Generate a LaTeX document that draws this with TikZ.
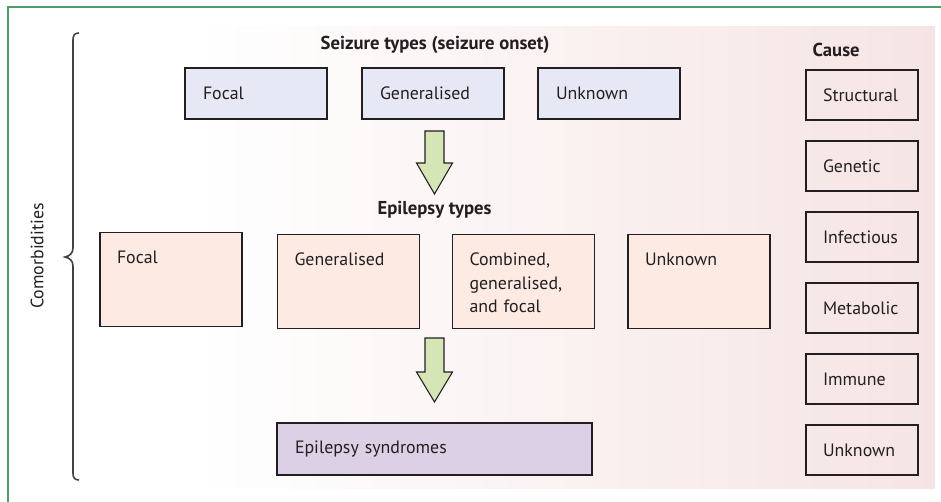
\documentclass[tikz,border=0pt]{standalone}
\usepackage{fontspec}
\setmainfont{PT Sans}
\definecolor{cadre}{HTML}{4E9C6E}
\definecolor{lavande}{HTML}{E6E8F5}
\definecolor{peche}{HTML}{FDEAE3}
\definecolor{mauve}{HTML}{DCD0E6}
\definecolor{vert}{HTML}{D5E5B6}
\definecolor{rose}{HTML}{F6E4E4}
\definecolor{encre}{HTML}{231F20}
\begin{document}
\begin{tikzpicture}[x=0.75pt,y=-0.75pt,
  every node/.style={font=\fontsize{13.4pt}{17.6pt}\selectfont,text=encre},
  onsetbox/.style={draw=encre,line width=1pt,fill=lavande,minimum width=106.5pt,minimum height=38.25pt,text width=79.5pt,inner xsep=13.5pt,align=left},
  typebox/.style={draw=encre,line width=1pt,fill=peche,anchor=north,text width=81pt,inner xsep=12.75pt,inner ysep=12pt,text height=11.25pt,text depth=35.25pt,align=left},
  causebox/.style={draw=encre,line width=1pt,minimum width=84pt,minimum height=37.5pt,text width=58.5pt,inner xsep=12.75pt,align=left},
  bigarrow/.style={draw=encre,line width=0.8pt,fill=vert,line join=miter},
  titre/.style={font=\fontsize{14pt}{16pt}\selectfont\bfseries}]

\useasboundingbox (0,0) rectangle (941,502);
\shade[left color=white,right color=rose] (193,27) rectangle (935,488);
\draw[cadre,line width=1pt] (8,502)--(8,7)--(941,7);

\draw[encre!85,line width=1.2pt] (79,33) .. controls (74,33) and (73,36) .. (73,40) -- (73,248)
  .. controls (73,253) and (70,256) .. (65,257) .. controls (70,258) and (73,261) .. (73,266)
  -- (73,473) .. controls (73,477) and (74,480) .. (79,480);
\node[rotate=90] (comorb) at (37,256) {Comorbidities};

\node[titre] (seizuretitle) at (435,45) {Seizure types (seizure onset)};
\node[onsetbox] (onsetfocal) at (256,93.5) {Focal};
\node[onsetbox] (onsetgen) at (433,93.5) {Generalised};
\node[onsetbox] (onsetunk) at (609,93.5) {Unknown};

\coordinate (flecheA) at (434.5,131);
\draw[bigarrow] (flecheA) ++(-9.5,0) -- ++(19,0) -- ++(0,32) -- ++(8.5,0) -- ++(-18,31) -- ++(-18,-31) -- ++(8.5,0) -- cycle;

\node[titre] (epititle) at (434.5,210) {Epilepsy types};
\node[typebox] (epifocal) at (171,232) {Focal};
\node[typebox] (epigen) at (348.5,234) {Generalised};
\node[typebox] (epicomb) at (523.5,234) {Combined,\\generalised,\\and focal};
\node[typebox] (epiunk) at (699,234) {Unknown};

\coordinate (flecheB) at (434.5,338);
\draw[bigarrow] (flecheB) ++(-9.5,0) -- ++(19,0) -- ++(0,34) -- ++(8.5,0) -- ++(-18,30) -- ++(-18,-30) -- ++(8.5,0) -- cycle;

\node[draw=encre,line width=1pt,fill=mauve,minimum width=236.25pt,minimum height=39pt,text width=209.25pt,inner xsep=13.5pt,align=left] (syndromes) at (434.5,449) {Epilepsy syndromes};

\node[titre,anchor=base west] (causetitle) at (808,57) {Cause};
\node[causebox] (structural) at (862,95) {Structural};
\node[causebox] (genetic) at (862,166) {Genetic};
\node[causebox] (infectious) at (862,237) {Infectious};
\node[causebox] (metabolic) at (862,308) {Metabolic};
\node[causebox] (immune) at (862,379) {Immune};
\node[causebox] (causeunk) at (862,450) {Unknown};

% fond rose a droite, cadre vert en haut et a gauche
\end{tikzpicture}
\end{document}
